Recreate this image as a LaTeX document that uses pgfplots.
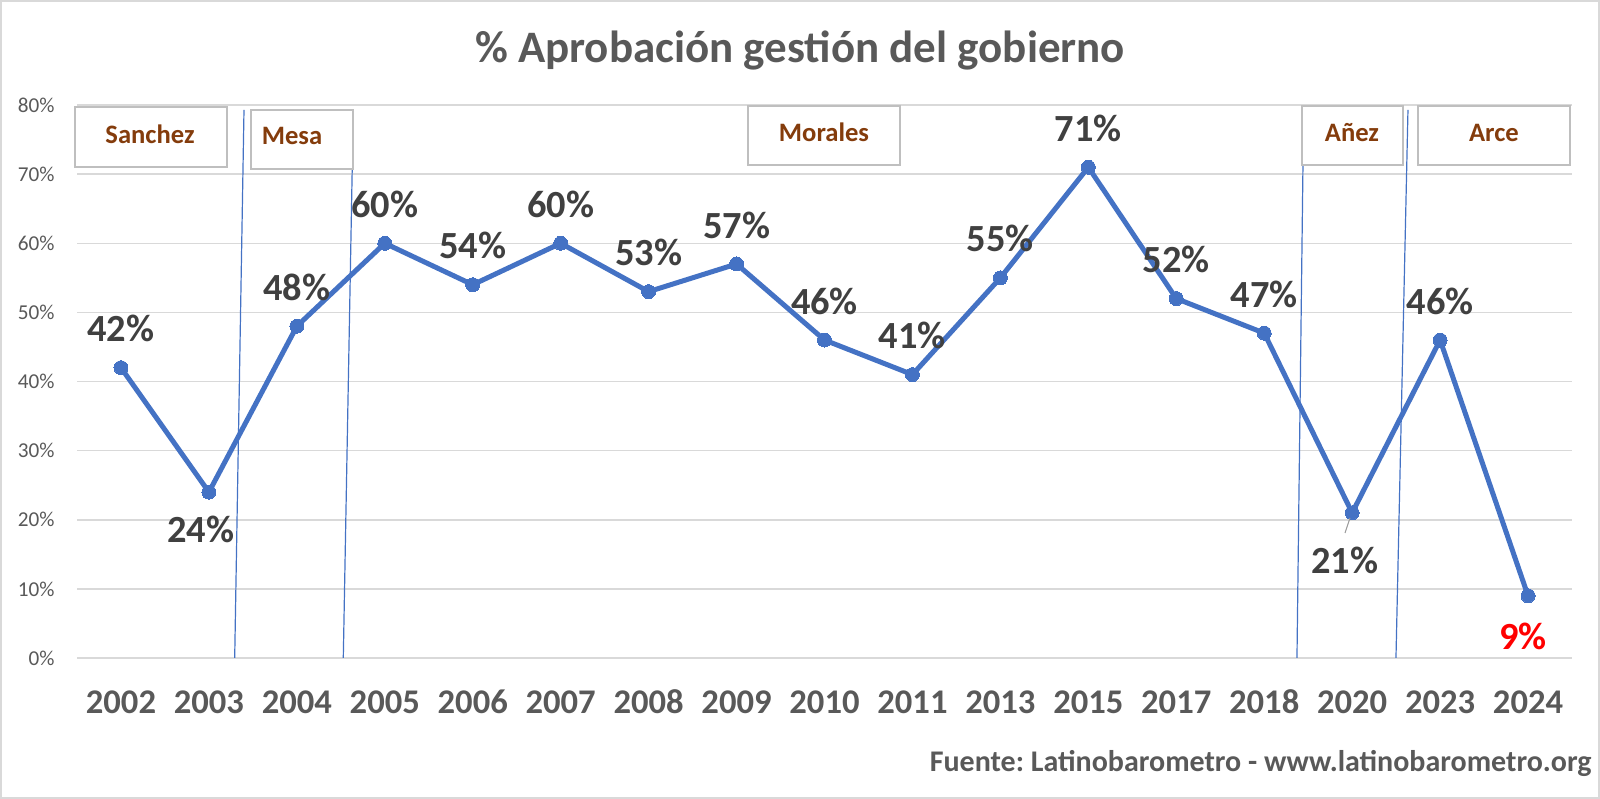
\documentclass[border=0pt]{standalone}
\usepackage{fontspec}
\setmainfont{Carlito}
\usepackage{pgfplots}
\pgfplotsset{compat=1.18}
\usepackage{pgfplotstable}
\definecolor{lineblue}{HTML}{4472C4}
\definecolor{gridgray}{HTML}{D9D9D9}
\definecolor{txtgray}{HTML}{595959}
\definecolor{lblgray}{HTML}{404040}
\definecolor{namebrown}{HTML}{843C0C}
\definecolor{boxgray}{HTML}{BFBFBF}
\definecolor{lblred}{HTML}{FF0000}
\frenchspacing

\pgfplotstableread{
x year v dx dy
0 2002 42 0 19.5
1 2003 24 -4 -18.5
2 2004 48 0 19.5
3 2005 60 0 19.5
4 2006 54 0 19.5
5 2007 60 0 19.5
6 2008 53 0 19.5
7 2009 57 0 19.5
8 2010 46 0 19.5
9 2011 41 0 19.5
10 2013 55 0 19.5
11 2015 71 0 19.5
12 2017 52 0 19.5
13 2018 47 0 19.5
14 2020 21 -3.6 -24
15 2023 46 0 19.5
16 2024 9 -2.5 -20.5
}\data

\begin{document}
\frenchspacing
\begin{tikzpicture}
\path[use as bounding box] (0,0) rectangle (800bp,399.5bp);
\draw[gridgray, line width=1bp] (0.5bp,0.5bp) rectangle (799.5bp,399bp);
\begin{axis}[
  at={(38.5bp,70.5bp)}, anchor=south west,
  scale only axis, width=747.5bp, height=276.5bp,
  xmin=-0.5, xmax=16.5, ymin=0, ymax=80,
  axis line style={draw=none},
  major tick length=0,
  /pgf/number format/assume math mode=true,
  ytick={0,10,20,30,40,50,60,70,80},
  yticklabels={0\%,10\%,20\%,30\%,40\%,50\%,60\%,70\%,80\%},
  ymajorgrids, grid style={gridgray, line width=0.75bp},
  xtick={0,...,16},
  xticklabels={2002,2003,2004,2005,2006,2007,2008,2009,2010,2011,2013,2015,2017,2018,2020,2023,2024},
  xticklabel style={font=\fontsize{17.3bp}{20bp}\selectfont\bfseries, text=txtgray, anchor=base, yshift=-27.9bp, inner sep=0pt},
  yticklabel style={font=\fontsize{10.6bp}{12bp}\selectfont, text=txtgray, anchor=east, inner sep=0pt, xshift=-11bp},
  clip=false,
]
\addplot[lineblue, line width=2.5bp, mark=*, mark size=3.5bp, mark options={fill=lineblue, draw=lineblue, line width=0pt}] table[x=x,y=v]{\data};

\addplot[draw=none, mark=none, forget plot, restrict x to domain=0:15,
  visualization depends on={\thisrow{dx} \as \dx},
  visualization depends on={\thisrow{dy} \as \dy},
  nodes near coords={\pgfmathprintnumber[assume math mode=true]{\pgfplotspointmeta}\%},
  every node near coord/.append style={font=\fontsize{19.2bp}{21bp}\selectfont\bfseries, text=lblgray, anchor=center, xshift=\dx*1bp, yshift=\dy*1bp}]
  table[x=x,y=v]{\data};

\addplot[draw=none, mark=none, forget plot, restrict x to domain=15.5:16.5,
  visualization depends on={\thisrow{dx} \as \dx},
  visualization depends on={\thisrow{dy} \as \dy},
  nodes near coords={\pgfmathprintnumber[assume math mode=true]{\pgfplotspointmeta}\%},
  every node near coord/.append style={font=\fontsize{19.2bp}{21bp}\selectfont\bfseries, text=lblred, anchor=center, xshift=\dx*1bp, yshift=\dy*1bp}]
  table[x=x,y=v]{\data};
\end{axis}

\begin{scope}[x=0.5bp, y=-0.5bp, shift={(0,399.5bp)}]
  \draw[lineblue, line width=0.6bp] (234.7,658) -- (244,110);
  \draw[lineblue, line width=0.6bp] (343.3,658) -- (353.3,110);
  \draw[lineblue, line width=0.6bp] (1297,658) -- (1303,165);
  \draw[lineblue, line width=0.6bp] (1396,658) -- (1408,110);
  \draw[black!40, line width=0.5bp] (1350,518) -- (1345,533);

  \draw[boxgray, line width=1bp, fill=white] (75,107) rectangle (227,167);
  \draw[boxgray, line width=1bp, fill=white] (250.7,110) rectangle (352.7,169);
  \draw[boxgray, line width=1bp, fill=white] (748.3,106) rectangle (900,165);
  \draw[boxgray, line width=1bp, fill=white] (1302,106) rectangle (1403,165);
  \draw[boxgray, line width=1bp, fill=white] (1417.7,106) rectangle (1570,165);

  \begin{scope}[every node/.style={font=\fontsize{13.3bp}{15bp}\selectfont\bfseries, text=namebrown, anchor=base, inner sep=0pt}]
  \node at (150,143.3) {Sanchez};
  \node at (292,145) {Mesa};
  \node at (824,141.7) {Morales};
  \node at (1352,141.7) {Añez};
  \node at (1494,141.7) {Arce};
  \end{scope}

  \node[font=\fontsize{22.5bp}{26bp}\selectfont\bfseries, text=txtgray, anchor=base, inner sep=0pt] at (800,63) {\% Aprobación gestión del gobierno};
  \node[font=\fontsize{15bp}{17bp}\selectfont\bfseries, text=txtgray, anchor=base east, inner sep=0pt] at (1592,771.5) {Fuente: Latinobarometro - www.latinobarometro.org};
\end{scope}
\end{tikzpicture}
\end{document}
